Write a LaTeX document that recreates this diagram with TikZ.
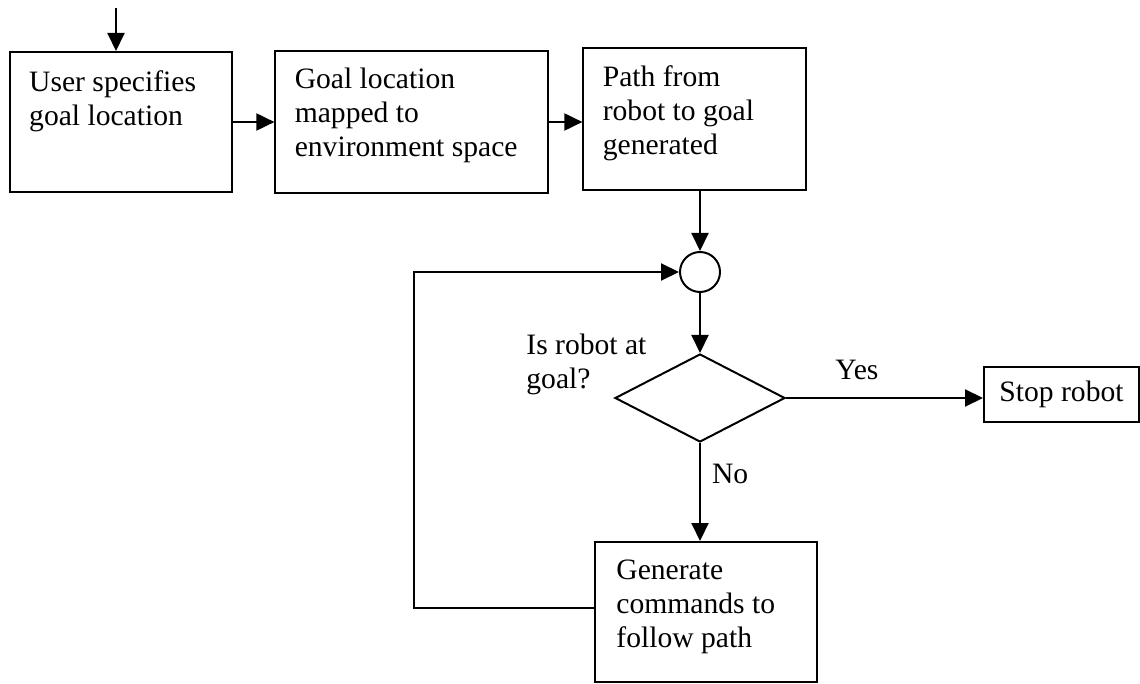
\documentclass[tikz,border=0pt]{standalone}
\usepackage{fontspec}
\setmainfont{Liberation Serif}
\usepackage{tikz}
\usetikzlibrary{shapes.geometric, arrows.meta, positioning}

\begin{document}
\begin{tikzpicture}[
  every node/.style={font=\fontsize{14.8}{17}\selectfont},
  stepbox/.style={rectangle, draw, line width=1pt, minimum width=111pt, minimum height=71pt},
  txt/.style={align=left, inner sep=0pt},
  arr/.style={-{Triangle[length=9pt,width=8.5pt]}, line width=1pt}
]
  \useasboundingbox (0,0) rectangle (570pt,-342pt);

  \node[stepbox, minimum height=70pt] (user) at (60.7pt,-61pt) {};
  \node[txt, below right=9.5pt and 9.7pt of user.north west] (usertxt) {User specifies\\goal location};

  \node[stepbox, minimum width=136.5pt, right=20.5pt of user] (mapped) {};
  \node[txt, below right=9pt and 10pt of mapped.north west] (mappedtxt) {Goal location\\mapped to\\environment space};

  \node[stepbox, minimum width=111.5pt, right=16.5pt of mapped, yshift=1.5pt] (route) {};
  \node[txt, below right=9pt and 10pt of route.north west] (routetxt) {Path from\\robot to goal\\generated};

  \node[circle, draw, line width=1pt, minimum size=20pt, inner sep=0pt, below=30pt of route, xshift=2.55pt] (junc) {};
  \node[diamond, draw, line width=1pt, minimum width=85pt, minimum height=44pt, inner sep=0pt, below=30pt of junc] (decision) {};
  \node[txt, anchor=north west] (asktxt) at ([xshift=-87pt,yshift=9.5pt]decision.north) {Is robot at\\goal?};

  \node[rectangle, draw, line width=1pt, minimum width=77.5pt, minimum height=27.5pt, right=98.5pt of decision, yshift=1.75pt] (stop) {Stop robot};

  \node[stepbox, minimum height=70pt, below=49pt of decision, xshift=3pt] (gen) {};
  \node[txt, below right=9pt and 11pt of gen.north west] (gentxt) {Generate\\commands to\\follow path};

  \coordinate (entry) at (58pt,-4pt);
  \draw[arr] (entry) -- (entry |- user.north);
  \draw[arr] (user) -- (mapped);
  \draw[arr] (mapped) -- (route.west |- mapped);
  \draw[arr] (route.south -| junc) -- (junc);
  \draw[arr] (junc) -- (decision);
  \draw[arr] (decision) -- node[txt, above=8.5pt, pos=0.36] (yes) {Yes} (decision -| stop.west);
  \draw[arr] (decision) -- node[txt, right=5.5pt, pos=0.32] (no) {No} (decision |- gen.north);
  \draw[arr] ([yshift=2pt]gen.west) -- ++(-90pt,0) |- (junc);
\end{tikzpicture}
\end{document}
